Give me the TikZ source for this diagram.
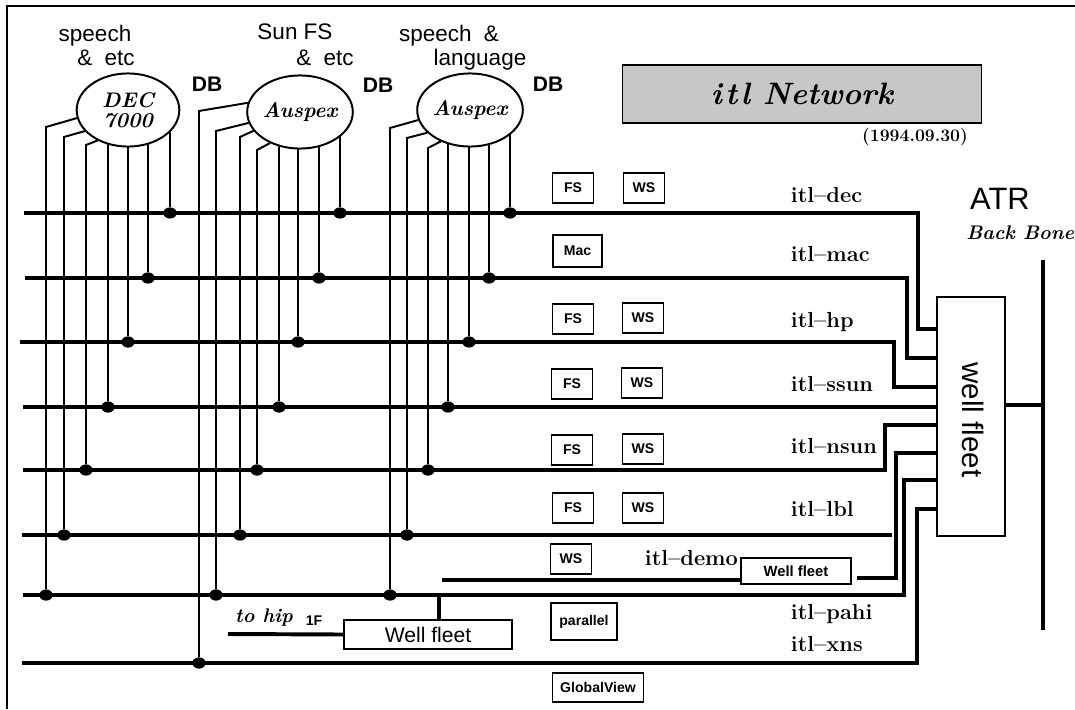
\documentclass[tikz,border=0pt]{standalone}
\usepackage{fontspec}
\usepackage{tikz}
\usetikzlibrary{shapes.geometric,backgrounds}
\newfontfamily\arial{Liberation Sans}
\tikzset{
  frame/.style={line width=1.4pt},
  bus/.style={line width=2.8pt},
  drop/.style={line width=1.4pt},
  joint/.style={ellipse,fill=black,inner sep=0pt,minimum width=9.5pt,minimum height=8pt},
  host/.style={ellipse,draw,line width=1.4pt,fill=white,minimum width=73pt,minimum height=52pt,
               inner sep=0pt,align=center,font=\bfseries\itshape\fontsize{15}{14}\selectfont},
  unit/.style={draw,line width=1.1pt,inner sep=0pt,minimum width=29pt,minimum height=21pt,
               font=\arial\bfseries\fontsize{10}{11}\selectfont},
  router/.style={draw,line width=1.4pt,fill=white,inner sep=0pt},
  netlab/.style={anchor=base west,font=\bfseries\fontsize{15.5}{18}\selectfont},
  tag/.style={font=\arial\fontsize{16}{18}\selectfont},
  db/.style={font=\arial\bfseries\fontsize{15}{17}\selectfont},
}

\begin{document}
\begin{tikzpicture}[x=0.025cm,y=-0.025cm]
  \useasboundingbox (0,0) rectangle (1075,709);
  \draw[frame] (7,709) -- (7,6) -- (1075,6);

  \node[draw,line width=1.1pt,fill=black!22,minimum width=255pt,minimum height=41pt,
        font=\bfseries\itshape\fontsize{22}{24}\selectfont] (title) at (802,94)
    {i\kern2.5pt t\kern2.5pt l Network};
  \node[font=\bfseries\fontsize{12.5}{14}\selectfont] (date) at (915,137) {(1994.09.30)};
  \node[font=\arial\fontsize{22}{24}\selectfont] (atr) at (1000,199) {ATR};
  \node[anchor=west,inner sep=0pt,font=\bfseries\itshape\fontsize{14}{16}\selectfont] (bbone)
    at (966,233) {Back Bone};

  \node[tag] (spchA) at (95,36) {speech};
  \node[tag] (etcA) at (106,58) {\&\hspace{0.55em}etc};
  \node[tag] (sunfs) at (295,32) {Sun FS};
  \node[tag] (etcB) at (325,58) {\&\hspace{0.55em}etc};
  \node[tag] (spchB) at (449,36) {speech\hspace{0.55em}\&};
  \node[tag] (lang) at (480,60) {language};
  \node[db] (dbA) at (207,84) {DB};
  \node[db] (dbB) at (378,85) {DB};
  \node[db] (dbC) at (548,84) {DB};

  \node[host] (dec) at (128,110) {DEC\\7000};
  \node[host] (ausA) at (300,112) {Auspex};
  \node[host] (ausB) at (470,110) {Auspex};

  \node[router,minimum width=48.2pt,minimum height=169.5pt] (wf) at (971,416.5) {};
  \node[rotate=-90,font=\arial\fontsize{21}{24}\selectfont] (wflab) at (973,420) {well fleet};
  \node[router,line width=1.1pt,minimum width=78pt,minimum height=18.4pt,
        font=\arial\bfseries\fontsize{10.5}{12}\selectfont] (wfs) at (796,571) {Well fleet};
  \node[router,minimum width=119pt,minimum height=20.6pt,
        font=\arial\fontsize{15}{17}\selectfont] (wfb) at (428,634.5) {Well fleet};

  \node[unit] (fsdec) at (573,188) {FS};
  \node[unit] (wsdec) at (644,188) {WS};
  \node[unit,minimum width=34.7pt,minimum height=22.7pt] (mac) at (577.5,251) {Mac};
  \node[unit] (fshp) at (573,319) {FS};
  \node[unit] (wshp) at (643,318) {WS};
  \node[unit] (fsssun) at (572,384) {FS};
  \node[unit] (wsssun) at (642,383) {WS};
  \node[unit] (fsnsun) at (572,450) {FS};
  \node[unit] (wsnsun) at (643,449) {WS};
  \node[unit] (fslbl) at (573,508) {FS};
  \node[unit] (wslbl) at (643,508) {WS};
  \node[unit] (wsdemo) at (571,559) {WS};
  \node[unit,minimum width=46.8pt,minimum height=26.2pt] (par) at (584,621.5) {parallel};
  \node[unit,minimum width=65pt,minimum height=20.6pt] (gview) at (598,687.5) {GlobalView};

  \node[netlab] (ldec) at (786,202) {itl--dec};
  \node[netlab] (lmac) at (786,261) {itl--mac};
  \node[netlab] (lhp) at (786,327) {itl--hp};
  \node[netlab] (lssun) at (786,391) {itl--ssun};
  \node[netlab] (lnsun) at (786,453) {itl--nsun};
  \node[netlab] (llbl) at (786,516) {itl--lbl};
  \node[netlab] (ldemo) at (640,565) {itl--demo};
  \node[netlab] (lpahi) at (786,619) {itl--pahi};
  \node[netlab] (lxns) at (786,651) {itl--xns};
  \node[font=\bfseries\itshape\fontsize{14}{16}\selectfont] (tohip) at (264,618) {to hip};
  \node[font=\arial\bfseries\fontsize{10}{12}\selectfont] (floor) at (314,621) {1F};

  \coordinate (decL) at (24,213);
  \coordinate (macL) at (25,278);
  \coordinate (hpL) at (20,342);
  \coordinate (ssunL) at (23,407);
  \coordinate (nsunL) at (23,470);
  \coordinate (lblL) at (22,535);
  \coordinate (lblR) at (892,535);
  \coordinate (demoL) at (442,580);
  \coordinate (demoR) at (857,578);
  \coordinate (pahiL) at (23,595);
  \coordinate (xnsL) at (22,663);
  \coordinate (hipL) at (228,634);
  \coordinate (bbtop) at (1043,260);
  \coordinate (bbbot) at (1043,630);

  \draw[bus] (decL) -| (918,329) -- (wf.west |- 0,329);
  \draw[bus] (macL) -| (907,358) -- (wf.west |- 0,358);
  \draw[bus] (hpL) -| (894,387) -- (wf.west |- 0,387);
  \draw[bus] (ssunL) -- (wf.west |- 0,407);
  \draw[bus] (nsunL) -| (885,425) -- (wf.west |- 0,425);
  \draw[bus] (lblL) -- (lblR);
  \draw[bus] (demoL) -- (wfs.west |- 0,580);
  \draw[bus] (demoR) -| (896,453) -- (wf.west |- 0,453);
  \draw[bus] (pahiL) -| (904,480) -- (wf.west |- 0,480);
  \draw[bus] (439,595) -- (wfb.north -| 439,0);
  \draw[bus] (xnsL) -| (917,509) -- (wf.west |- 0,509);
  \draw[bus] (hipL) -- (wfb.west);
  \draw[bus] (bbtop) -- (bbbot);
  \draw[bus] (wf.east |- 0,405) -- (bbtop |- 0,405);

  \node[joint] (dec1) at (46,595) {};
  \node[joint] (dec2) at (64,535) {};
  \node[joint] (dec3) at (86,470) {};
  \node[joint] (dec4) at (108,407) {};
  \node[joint] (dec5) at (128,342) {};
  \node[joint] (dec6) at (148,278) {};
  \node[joint] (dec7) at (170,213) {};
  \node[joint] (ausA1) at (199,663) {};
  \node[joint] (ausA2) at (216,595) {};
  \node[joint] (ausA3) at (240,535) {};
  \node[joint] (ausA4) at (257,470) {};
  \node[joint] (ausA5) at (279,407) {};
  \node[joint] (ausA6) at (298,342) {};
  \node[joint] (ausA7) at (319,278) {};
  \node[joint] (ausA8) at (340,213) {};
  \node[joint] (ausB1) at (390,595) {};
  \node[joint] (ausB2) at (407,535) {};
  \node[joint] (ausB3) at (428,470) {};
  \node[joint] (ausB4) at (448,407) {};
  \node[joint] (ausB5) at (469,342) {};
  \node[joint] (ausB6) at (489,278) {};
  \node[joint] (ausB7) at (510,213) {};

  \begin{scope}[on background layer]
    \draw[drop] (dec1) -- (dec1 |- 0,127) -- (dec.189);
    \draw[drop] (dec2) -- (dec2 |- 0,137) -- (dec.206);
    \draw[drop] (dec3) -- (dec3 |- 0,145) -- (dec.225);
    \draw[drop] (dec4) -- (dec4 |- dec);
    \draw[drop] (dec5) -- (dec5 |- dec);
    \draw[drop] (dec6) -- (dec6 |- dec);
    \draw[drop] (dec7) -- (dec7 |- dec);
    \draw[drop] (ausA1) -- (ausA1 |- 0,111) -- (ausA.170);
    \draw[drop] (ausA2) -- (ausA2 |- 0,131) -- (ausA.192);
    \draw[drop] (ausA3) -- (ausA3 |- 0,137) -- (ausA.202);
    \draw[drop] (ausA4) -- (ausA4 |- 0,150) -- (ausA.226);
    \draw[drop] (ausA5) -- (ausA5 |- ausA);
    \draw[drop] (ausA6) -- (ausA6 |- ausA);
    \draw[drop] (ausA7) -- (ausA7 |- ausA);
    \draw[drop] (ausA8) -- (ausA8 |- ausA);
    \draw[drop] (ausB1) -- (ausB1 |- 0,128) -- (ausB.191);
    \draw[drop] (ausB2) -- (ausB2 |- 0,138) -- (ausB.208);
    \draw[drop] (ausB3) -- (ausB3 |- 0,148) -- (ausB.227);
    \draw[drop] (ausB4) -- (ausB4 |- ausB);
    \draw[drop] (ausB5) -- (ausB5 |- ausB);
    \draw[drop] (ausB6) -- (ausB6 |- ausB);
    \draw[drop] (ausB7) -- (ausB7 |- ausB);
  \end{scope}
\end{tikzpicture}
\end{document}
